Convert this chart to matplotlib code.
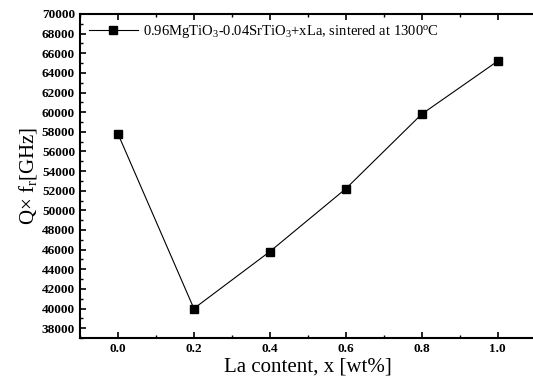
import numpy as np
import matplotlib.pyplot as plt
from matplotlib.ticker import MultipleLocator

# La content (wt%) and Q x f values
la_content = [0.0, 0.2, 0.4, 0.6, 0.8, 1.0]
qf_values = [57800, 40000, 45800, 52200, 59800, 65200]

plt.rcParams['font.family'] = ['Liberation Serif', 'DejaVu Serif']
plt.rcParams['mathtext.fontset'] = 'custom'
plt.rcParams['mathtext.rm'] = 'Liberation Serif'
plt.rcParams['mathtext.it'] = 'Liberation Serif:italic'

fig = plt.figure(figsize=(5.33, 3.83), dpi=100)
ax = fig.add_axes([0.150, 0.1175, 0.855, 0.846])

ax.plot(la_content, qf_values, color='black', lw=0.8, marker='s', ms=5.5,
        mfc='black', mec='black',
        label=r'0.96MgTiO$_3$-0.04SrTiO$_3$+xLa, sintered at 1300$^\mathrm{o}$C')

ax.set_xlim(-0.1, 1.1)
ax.set_ylim(37000, 70000)
ax.xaxis.set_minor_locator(MultipleLocator(0.1))
ax.yaxis.set_minor_locator(MultipleLocator(1000))
ax.set_xticks(np.arange(0, 1.01, 0.2))
ax.set_xticklabels(['0.0', '0.2', '0.4', '0.6', '0.8', '1.0'])
ax.set_yticks(np.arange(38000, 70001, 2000))

ax.tick_params(which='both', direction='in', top=True, right=False, labelsize=9.5)
ax.tick_params(which='major', length=4, width=1.2)
ax.tick_params(which='minor', length=2, width=1)
for lab in ax.get_xticklabels() + ax.get_yticklabels():
    lab.set_fontweight('bold')
for s in ax.spines.values():
    s.set_linewidth(1.5)
ax.spines['right'].set_visible(False)   # cut off at the image edge

ax.set_xlabel('La content, x [wt%]', fontsize=15, labelpad=2)
ax.set_ylabel(r'Q$\times$ f$_\mathrm{r}$[GHz]', fontsize=15, labelpad=2)

ax.legend(loc='upper left', frameon=False, fontsize=10.5, handlelength=3.4,
          handletextpad=0.3, borderaxespad=0.2)

fig.savefig('out.png', dpi=100)
